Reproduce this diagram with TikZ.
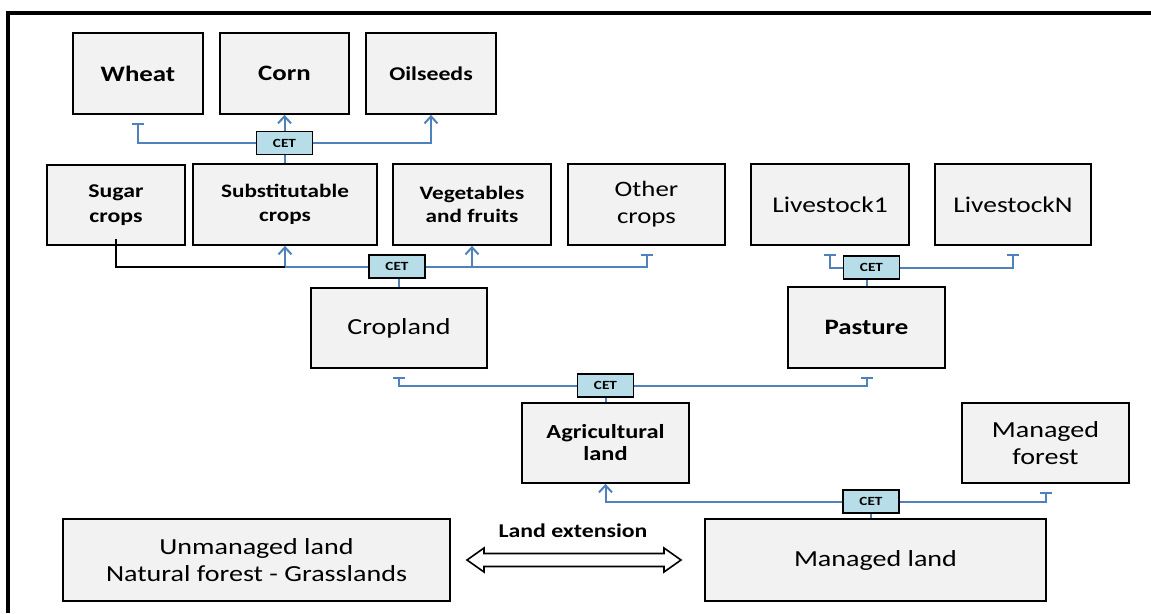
\documentclass[tikz,border=0pt]{standalone}
\usepackage{fontspec}
\setmainfont{Carlito}[FakeStretch=1.22]
\usetikzlibrary{arrows.meta}
\definecolor{boxgray}{RGB}{242,242,242}
\definecolor{cetblue}{RGB}{183,222,232}
\definecolor{linkblue}{RGB}{79,129,189}
\newcommand{\fs}[1]{\fontsize{#1}{#1}\selectfont}
\tikzset{
  box/.style={draw, line width=1.8pt, fill=boxgray, inner sep=1pt, align=center},
  cetbox/.style={draw, line width=1.8pt, fill=cetblue, minimum width=56pt, minimum height=23pt, inner sep=0pt, font=\fontsize{12.5}{13}\selectfont\bfseries},
  link/.style={draw=linkblue, line width=2pt},
  arr/.style={link, -{Straight Barb[length=7pt,width=13pt,line width=2pt]}},
  tee/.style={link, -{Bar[width=12pt,line width=1.6pt]}, shorten >=8pt},
}
\begin{document}
\begin{tikzpicture}[x=1pt,y=-1pt]
\useasboundingbox (0,0) rectangle (1151,613);
% frame
\draw[line width=4pt] (8,613) -- (8,13) -- (1151,13);

% row 1
\node[box, minimum width=130pt, minimum height=81pt, font=\fs{22}\bfseries] (wheat) at (138,73.5) {Wheat};
\node[box, minimum width=129pt, minimum height=81pt, font=\fs{22}\bfseries] (corn) at (284.5,73.5) {Corn};
\node[box, minimum width=130pt, minimum height=81pt, font=\fs{19.5}\bfseries] (oil) at (431,73.5) {Oilseeds};

% row 2
\node[box, minimum width=138pt, minimum height=80pt, font=\fontsize{19.5}{25}\selectfont\bfseries] (sugar) at (116,205) {Sugar\\crops};
\node[box, minimum width=184pt, minimum height=81pt, font=\fontsize{19}{24}\selectfont\bfseries] (subst) at (285,204.5) {Substitutable\\crops};
\node[box, minimum width=158pt, minimum height=81pt, font=\fontsize{19}{23}\selectfont\bfseries] (veg) at (472,204.5) {Vegetables\\and fruits};
\node[box, minimum width=157pt, minimum height=81pt, font=\fontsize{22}{27}\selectfont] (other) at (646.5,204.5) {Other\\crops};
\node[box, minimum width=158pt, minimum height=81pt, font=\fs{22.5}] (live1) at (830,204.5) {Livestock1};
\node[box, minimum width=156pt, minimum height=81pt, font=\fs{22.5}] (liveN) at (1013,204.5) {LivestockN};

% row 3
\node[box, minimum width=176pt, minimum height=80pt, font=\fs{23}] (crop) at (399,328) {Cropland};
\node[box, minimum width=157pt, minimum height=81pt, font=\fs{22}\bfseries] (past) at (866.5,327.5) {Pasture};

% row 4
\node[box, minimum width=167pt, minimum height=80pt, font=\fontsize{20}{22}\selectfont\bfseries] (agri) at (605.5,443) {Agricultural\\land};
\node[box, minimum width=167pt, minimum height=80pt, font=\fontsize{23}{27}\selectfont] (mfor) at (1045.5,443) {Managed\\forest};

% row 5
\node[box, minimum width=387pt, minimum height=82pt, font=\fontsize{23}{27}\selectfont] (unman) at (256.5,560) {Unmanaged land\\Natural forest - Grasslands};
\node[box, minimum width=341pt, minimum height=82pt, font=\fs{23}] (mland) at (875.5,560) {Managed land};

% CET boxes
\node[cetbox] (cet1) at (284.5,143) {CET};
\node[cetbox] (cet2) at (397,266.5) {CET};
\node[cetbox] (cet3) at (871.5,267.5) {CET};
\node[cetbox] (cet4) at (605.5,385.5) {CET};
\node[cetbox] (cet5) at (871,501.5) {CET};

% connectors CET1
\draw[tee] (cet1.west) -| (wheat.south);
\draw[arr] (cet1.north) -- (corn.south);
\draw[arr] (cet1.east) -| (oil.south);
\draw[link] (cet1.south) -- (cet1.south |- subst.north);

% connectors CET2
\draw[arr] (cet2.west) -| (subst.south);
\draw[line width=2pt, line join=miter] (subst.south |- cet2.west) -| ([yshift=7pt]sugar.south);
\draw[tee] (cet2.east) -| (other.south);
\draw[arr] (veg.south |- cet2.east) -- (veg.south);
\draw[link] (crop.north |- cet2.south) -- (crop.north);

% connectors CET3
\draw[tee] (cet3.west) -| (live1.south);
\draw[tee] (cet3.east) -| (liveN.south);
\draw[link] (past.north |- cet3.south) -- (past.north);

% connectors CET4
\draw[tee] (cet4.west) -| (crop.south);
\draw[tee] (cet4.east) -| (past.south);
\draw[link] (cet4.south) -- (agri.north);

% connectors CET5
\draw[arr] (cet5.west) -| (agri.south);
\draw[tee] (cet5.east) -| (mfor.south);
\draw[link] (cet5.south) -- (cet5.south |- mland.north);

% land extension double arrow
\coordinate (extL) at (467,560);
\coordinate (extR) at (681,560);
\draw[line width=1.6pt, fill=white, line join=miter]
  (extL) -- ++(17,-12) -- ++(0,5.5) -- ++(180,0) -- ++(0,-5.5) -- (extR)
  -- ++(-17,12) -- ++(0,-5.5) -- ++(-180,0) -- ++(0,5.5) -- cycle;
\node[font=\fs{19.5}\bfseries] (extlabel) at (573,531) {Land extension};
\end{tikzpicture}
\end{document}
